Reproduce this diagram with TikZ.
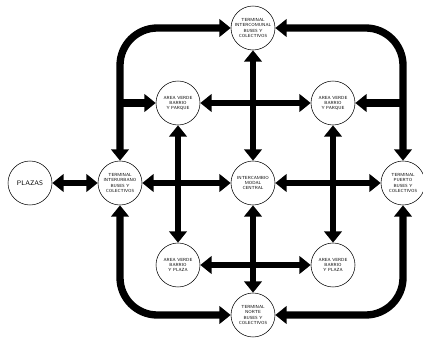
\documentclass[tikz,border=0pt]{standalone}
\usetikzlibrary{arrows.meta}
\begin{document}
\begin{tikzpicture}[x=0.75pt,y=-0.75pt,>={Triangle[length=8.5pt,width=13pt]},
  site/.style={draw,circle,thin,fill=white,minimum size=33pt,inner sep=0pt,align=center,font=\fontsize{3.3}{3.8}\selectfont\sffamily},
  link/.style={line width=4.5pt,<->},
  ring/.style={line width=5.5pt,<->,rounded corners=28pt}]
\useasboundingbox (0,0) rectangle (423,345);
% sites
\node[site,font=\fontsize{5}{6}\selectfont\sffamily] (plazas) at (30,183) {PLAZAS};
\node[site] (west) at (120,183) {TERMINAL\\INTERURBANO\\BUSES Y\\COLECTIVOS};
\node[site] (north) at (253,28) {TERMINAL\\INTERCOMUNAL\\BUSES Y\\COLECTIVOS};
\node[site] (centre) at (253,183) {INTERCAMBIO\\MODAL\\CENTRAL};
\node[site] (east) at (403,183) {TERMINAL\\PUERTO\\BUSES Y\\COLECTIVOS};
\node[site] (south) at (253,315) {TERMINAL\\NORTE\\BUSES Y\\COLECTIVOS};
\node[site] (nw) at (178,103) {AREA VERDE\\BARRIO\\Y PARQUE};
\node[site] (ne) at (333,103) {AREA VERDE\\BARRIO\\Y PARQUE};
\node[site] (sw) at (178,265) {AREA VERDE\\BARRIO\\Y PLAZA};
\node[site] (se) at (333,265) {AREA VERDE\\BARRIO\\Y PLAZA};
\coordinate (wbranch) at (120,103);
\coordinate (ebranch) at (403,103);
% outer ring
\draw[ring] (west.north) |- (north.west);
\draw[ring] (north.east) -| (east.north);
\draw[ring] (west.south) |- (south.west);
\draw[ring] (south.east) -| (east.south);
\draw[line width=5.5pt,->] (wbranch) -- (nw.west);
\draw[line width=5.5pt,->] (ebranch) -- (ne.east);
% inner grid
\draw[link] (plazas) -- (west);
\draw[link] (west) -- (centre);
\draw[link] (centre) -- (east);
\draw[link] (nw) -- (ne);
\draw[link] (sw) -- (se);
\draw[link] (north) -- (centre);
\draw[link] (centre) -- (south);
\draw[link] (nw) -- (sw);
\draw[link] (ne) -- (se);
\end{tikzpicture}
\end{document}
